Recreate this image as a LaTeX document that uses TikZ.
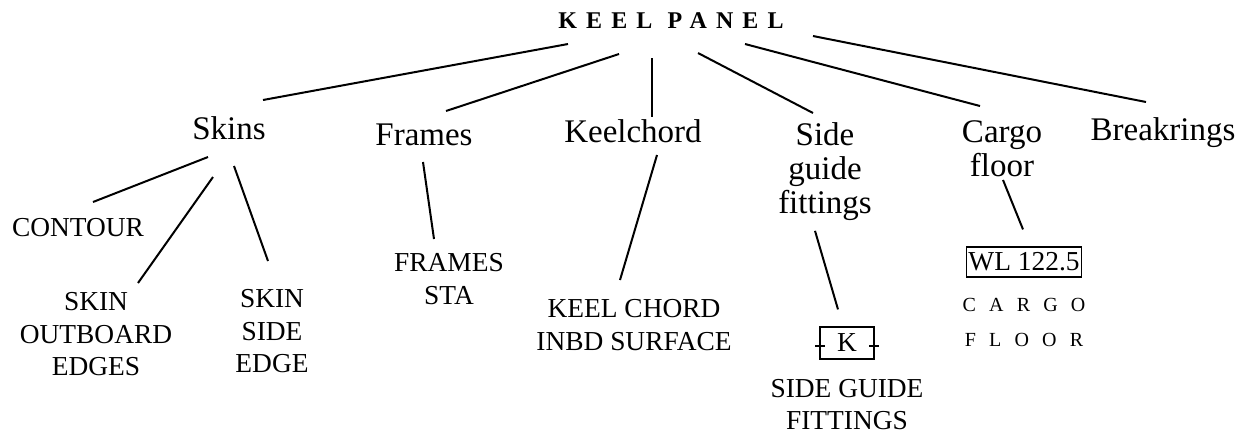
\documentclass[tikz,border=0pt]{standalone}
\usepackage{fontspec}
\setmainfont{Liberation Serif}
\newfontfamily\titlefont[LetterSpace=38]{Liberation Serif}
\newfontfamily\widefont[LetterSpace=66]{Liberation Serif}
\usetikzlibrary{positioning}

\begin{document}
\begin{tikzpicture}[x=0.5pt, y=-0.5pt,
    every node/.style={inner sep=0pt},
    head/.style={font=\titlefont\bfseries\fontsize{12}{14}\selectfont, anchor=base},
    cat/.style={font=\fontsize{16.5}{17}\selectfont, align=center},
    leaf/.style={font=\fontsize{13.7}{16.3}\selectfont, align=center, anchor=north},
    tag/.style={draw, line width=0.6pt, font=\fontsize{13.7}{16}\selectfont},
    ln/.style={line width=1pt}]
  \useasboundingbox (0,0) rectangle (1247,436);
  % top level
  \node[head] (panel) at (671,28) {KEEL PANEL};
  \node[cat, anchor=base] (skins) at (229,139) {Skins};
  \node[cat, anchor=base] (frames) at (424,145) {Frames};
  \node[cat, anchor=base] (keel) at (633,142) {Keelchord};
  \node[cat, anchor=north] (side) at (825,122) {Side\\guide\\fittings};
  \node[cat, anchor=north] (cargo) at (1002,120) {Cargo\\floor};
  \node[cat, anchor=base] (brk) at (1163,140) {Breakrings};
  % leaves
  \node[leaf] (contour) at (78,218) {CONTOUR};
  \node[leaf] (outbd) at (96,292) {SKIN\\OUTBOARD\\EDGES};
  \node[leaf] (sedge) at (272,289) {SKIN\\SIDE\\EDGE};
  \node[leaf] (sta) at (449,253) {FRAMES\\STA};
  \node[leaf] (kchord) at (634,299) {KEEL CHORD\\INBD SURFACE};
  \node[tag, minimum width=27pt, minimum height=16pt] (kbox) at (847,343) {K};
  \node[leaf, below=9.5pt of kbox] (sguide) {SIDE GUIDE\\FITTINGS};
  \node[tag, minimum width=57.5pt, minimum height=15pt] (wl) at (1024,262) {WL 122.5};
  \node[leaf, font=\widefont\fontsize{10}{17.5}\selectfont, below=10pt of wl] (cfloor) {CARGO\\FLOOR};
  \draw[line width=0.6pt] ([xshift=-2pt,yshift=-1.5pt]kbox.west) -- ++(5pt,0)
                          ([xshift=2pt,yshift=-1.5pt]kbox.east) -- ++(-5pt,0);
  % connectors
  \draw[ln] ([shift={(-103,16)}]panel.base) -- ([shift={(34,-39)}]skins.base);
  \draw[ln] ([shift={(-52,26)}]panel.base) -- ([shift={(22,-34)}]frames.base);
  \draw[ln] ([shift={(-19,30)}]panel.base) -- ([shift={(19,-25)}]keel.base);
  \draw[ln] ([shift={(27,25)}]panel.base) -- ([shift={(-12,-9)}]side.north);
  \draw[ln] ([shift={(74,16)}]panel.base) -- ([shift={(-22,-14)}]cargo.north);
  \draw[ln] ([shift={(142,8)}]panel.base) -- ([shift={(-17,-38)}]brk.base);
  \draw[ln] ([shift={(-21,18)}]skins.base) -- ([shift={(15,-16)}]contour.north);
  \draw[ln] ([shift={(-16,38)}]skins.base) -- ([shift={(42,-9)}]outbd.north);
  \draw[ln] ([shift={(5,27)}]skins.base) -- ([shift={(-4,-28)}]sedge.north);
  \draw[ln] ([shift={(-1,17)}]frames.base) -- ([shift={(-15,-14)}]sta.north);
  \draw[ln] ([shift={(24,13)}]keel.base) -- ([shift={(-14,-19)}]kchord.north);
  \draw[ln] ([shift={(-10,10)}]side.south) -- ([shift={(-9,-17)}]kbox.north);
  \draw[ln] ([shift={(1,3)}]cargo.south) -- ([shift={(-1,-17)}]wl.north);
\end{tikzpicture}
\end{document}
